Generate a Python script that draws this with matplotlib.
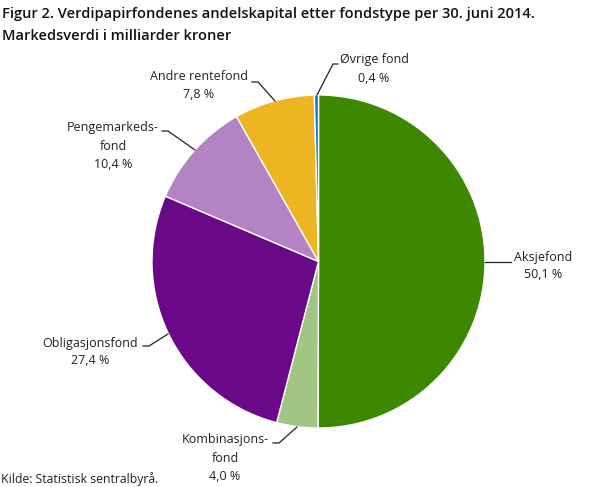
import matplotlib.pyplot as plt

plt.rcParams['font.family'] = ['Open Sans', 'DejaVu Sans']

# data
fond_types = ["Aksjefond", "Kombinasjons-\nfond", "Obligasjonsfond",
              "Pengemarkeds-\nfond", "Andre rentefond", "Øvrige fond"]
shares = [50.1, 4.0, 27.4, 10.4, 7.8, 0.4]
share_labels = ["50,1 %", "4,0 %", "27,4 %", "10,4 %", "7,8 %", "0,4 %"]
colors = ["#3d8800", "#a0c585", "#6a0888", "#b383c4", "#ecb521", "#1a6fd6"]

W, H = 608, 487
fig = plt.figure(figsize=(W / 100, H / 100), dpi=100)
ax = fig.add_axes([0, 0, 1, 1])

cx, cy, r = 318.5, 261.5, 166.5

# pie drawn in pixel coords, y axis flipped afterwards
wedges, _ = ax.pie(shares, colors=colors, startangle=-90, counterclock=True,
                   radius=r, center=(cx, cy), frame=True,
                   wedgeprops=dict(edgecolor="white", linewidth=1))
ax.set_xlim(0, W)
ax.set_ylim(H, 0)
ax.axis("off")

# label placement: (text center x, y of first line, leader points)
label_pos = [
    (543, 257, [(485, 262), (511, 262)]),
    (225, 440, [(297, 427), (279, 443), (273, 443)]),
    (90, 343, [(168, 334), (149, 346), (143, 346)]),
    (113, 128, [(195, 150), (168, 131), (162, 131)]),
    (199, 77, [(275, 101), (258, 82), (252, 82)]),
    (374, 60, [(317, 95), (333, 64), (338, 64)]),
]

line_h = 18
for name, lab, (tx, ty, pts) in zip(fond_types, share_labels, label_pos):
    lines = name.split("\n") + [lab]
    for i, s in enumerate(lines):
        ax.text(tx, ty + i * line_h, s, ha="center", va="center",
                fontsize=9, color="#222222")
    xs = [p[0] for p in pts]
    ys = [p[1] for p in pts]
    ax.plot(xs, ys, color="#222222", lw=0.9)

fig.text(2 / W, 1 - 14 / H,
         "Figur 2. Verdipapirfondenes andelskapital etter fondstype per 30. juni 2014.",
         fontsize=10.5, fontweight="semibold", va="center", ha="left", color="#111111")
fig.text(2 / W, 1 - 36 / H, "Markedsverdi i milliarder kroner",
         fontsize=10.5, fontweight="semibold", va="center", ha="left", color="#111111")
fig.text(1 / W, 1 - 479 / H, "Kilde: Statistisk sentralbyrå.",
         fontsize=8.8, va="center", ha="left", color="#222222")

fig.savefig("out.png", dpi=100)
